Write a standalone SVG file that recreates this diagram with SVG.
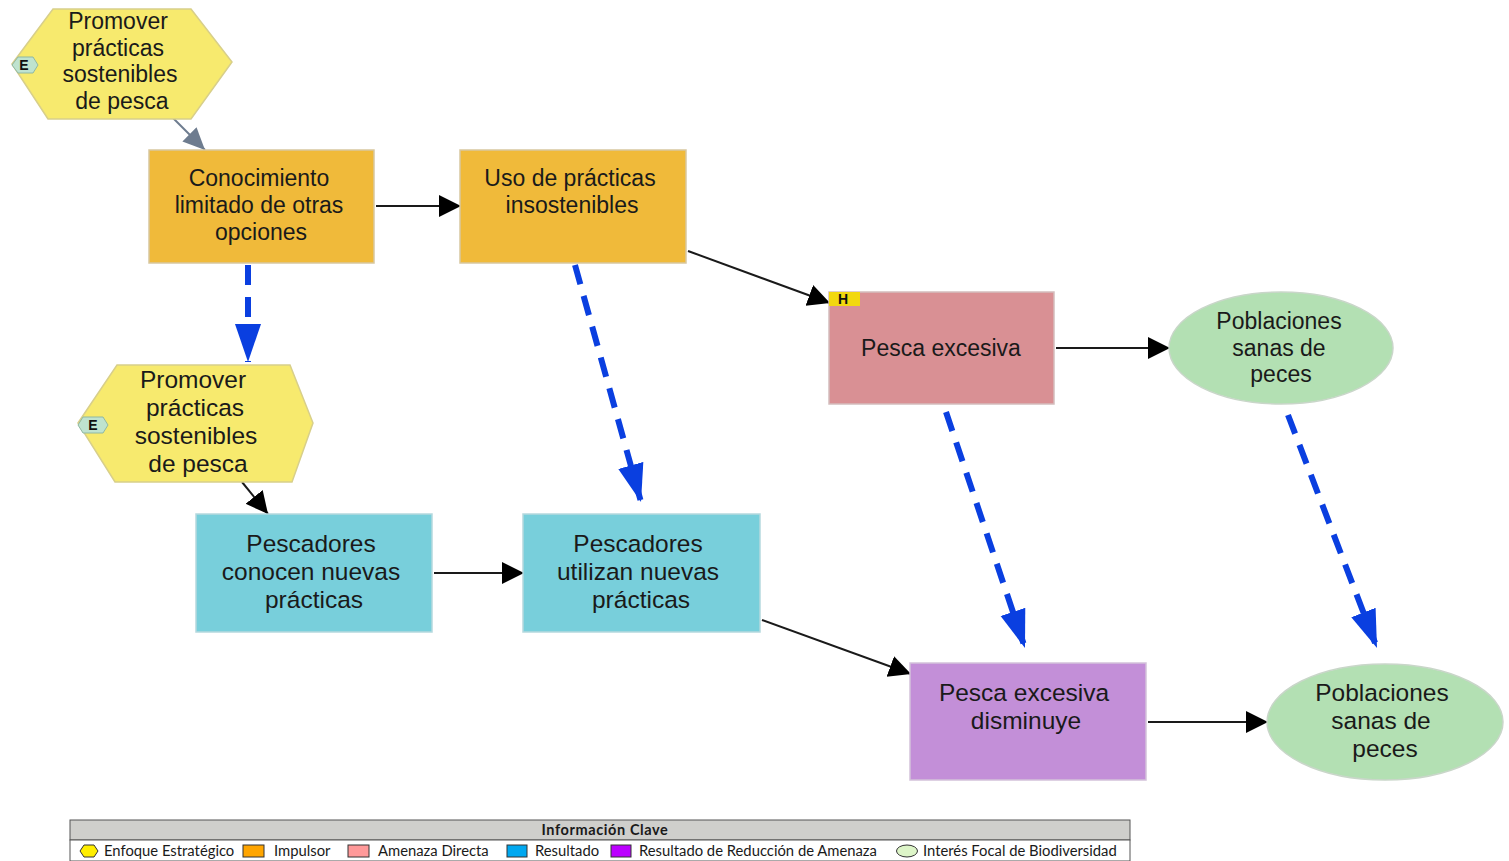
<svg xmlns="http://www.w3.org/2000/svg" width="1509" height="861" viewBox="0 0 1509 861">
  <style>
    .lbl { font-family: "Liberation Sans", Arial, sans-serif; font-size: 23px; fill: #1a1a1a; text-anchor: middle; }
    .big { font-size: 24.5px; }
    .hex { fill: #F7EA6E; stroke: #D8CF8A; stroke-width: 1.5; }
    .drv { fill: #F0BA3A; stroke: #D8C7A0; stroke-width: 1.5; }
    .thr { fill: #D99094; stroke: #D4BDBD; stroke-width: 1.5; }
    .res { fill: #78CFDB; stroke: #B5D9DE; stroke-width: 1.5; }
    .trr { fill: #C38FD8; stroke: #D3C2DA; stroke-width: 1.5; }
    .bio { fill: #B3E0B3; stroke: #C9D6C9; stroke-width: 1.5; }
    .badge { fill: #BFE3CF; stroke: #8FB8A3; stroke-width: 1; }
    .badgeTxt { font-family: "Liberation Sans", Arial, sans-serif; font-size: 14px; font-weight: bold; fill: #111; text-anchor: middle; }
    .link { stroke: #1a1a1a; stroke-width: 2; fill: none; }
    .dash { stroke: #0A3FE0; stroke-width: 6; fill: none; stroke-dasharray: 20 12; }
    .leg { font-family: Lato, "Open Sans", sans-serif; font-size: 14.8px; fill: #1a1a1a; }
  </style>
  <defs>
    <marker id="ah" markerUnits="userSpaceOnUse" markerWidth="24" markerHeight="24" viewBox="0 0 24 24" refX="22" refY="12" orient="auto">
      <path d="M0,1 L22,12 L0,23 Z" fill="#000"/>
    </marker>
    <marker id="ahGray" markerUnits="userSpaceOnUse" markerWidth="24" markerHeight="24" viewBox="0 0 24 24" refX="22" refY="12" orient="auto">
      <path d="M0,2 L22,12 L0,22 Z" fill="#6E7C8F"/>
    </marker>
    <marker id="ahBlue" markerUnits="userSpaceOnUse" markerWidth="40" markerHeight="30" viewBox="0 0 40 30" refX="38" refY="15" orient="auto">
      <path d="M0,2 L38,15 L0,28 Z" fill="#0A3FE0"/>
    </marker>
  </defs>

  <!-- connectors -->
  <g id="connectors">
    <line x1="172" y1="117" x2="205" y2="150" stroke="#6E7C8F" stroke-width="2" marker-end="url(#ahGray)"/>
    <line class="link" x1="376" y1="206" x2="461" y2="206" marker-end="url(#ah)"/>
    <line class="link" x1="688" y1="251" x2="830" y2="303" marker-end="url(#ah)"/>
    <line class="link" x1="1056" y1="348" x2="1170" y2="348" marker-end="url(#ah)"/>
    <line class="link" x1="242" y1="482" x2="268" y2="514" marker-end="url(#ah)"/>
    <line class="link" x1="434" y1="573" x2="524" y2="573" marker-end="url(#ah)"/>
    <line class="link" x1="762" y1="620" x2="911" y2="674" marker-end="url(#ah)"/>
    <line class="link" x1="1148" y1="722" x2="1268" y2="722" marker-end="url(#ah)"/>
    <line class="dash" x1="248" y1="265" x2="248" y2="362" marker-end="url(#ahBlue)"/>
    <line class="dash" x1="575" y1="265" x2="641" y2="502" marker-end="url(#ahBlue)"/>
    <line class="dash" x1="946" y1="412" x2="1025" y2="648" marker-end="url(#ahBlue)"/>
    <line class="dash" x1="1288" y1="415" x2="1377" y2="648" marker-end="url(#ahBlue)"/>
  </g>

  <!-- strategy 1 -->
  <g id="strategy1">
    <polygon class="hex" points="12,64 53,9 191,9 232,62 191,119 48,119"/>
    <polygon class="badge" points="12,65 18,57 33,57 38,65 33,73 18,73"/>
    <text class="badgeTxt" x="24" y="70">E</text>
    <text class="lbl" x="118" y="29">Promover</text>
    <text class="lbl" x="118" y="56">prácticas</text>
    <text class="lbl" x="120" y="82">sostenibles</text>
    <text class="lbl" x="122" y="109">de pesca</text>
  </g>

  <!-- strategy 2 -->
  <g id="strategy2">
    <polygon class="hex" points="78,423 117,365 290,365 313,423 292,482 115,482"/>
    <polygon class="badge" points="78,425 83,417 103,417 108,425 103,433 83,433"/>
    <text class="badgeTxt" x="93" y="430">E</text>
    <text class="lbl big" x="193" y="388">Promover</text>
    <text class="lbl big" x="195" y="416">prácticas</text>
    <text class="lbl big" x="196" y="444">sostenibles</text>
    <text class="lbl big" x="198" y="472">de pesca</text>
  </g>

  <!-- drivers -->
  <g id="driver-conocimiento">
    <rect class="drv" x="149" y="150" width="225" height="113"/>
    <text class="lbl" x="259" y="186">Conocimiento</text>
    <text class="lbl" x="259" y="213">limitado de otras</text>
    <text class="lbl" x="261" y="240">opciones</text>
  </g>
  <g id="driver-uso">
    <rect class="drv" x="460" y="150" width="226" height="113"/>
    <text class="lbl" x="570" y="186">Uso de prácticas</text>
    <text class="lbl" x="572" y="213">insostenibles</text>
  </g>

  <!-- direct threat -->
  <g id="threat-pesca">
    <rect class="thr" x="829" y="292" width="225" height="112"/>
    <rect x="829" y="292" width="31" height="14" fill="#F2D80F"/>
    <text class="badgeTxt" x="843" y="304">H</text>
    <text class="lbl" x="941" y="356">Pesca excesiva</text>
  </g>

  <!-- biodiversity target -->
  <g id="target1">
    <ellipse class="bio" cx="1281" cy="348" rx="112" ry="56"/>
    <text class="lbl" x="1279" y="329">Poblaciones</text>
    <text class="lbl" x="1279" y="356">sanas de</text>
    <text class="lbl" x="1281" y="382">peces</text>
  </g>

  <!-- results -->
  <g id="result-conocen">
    <rect class="res" x="196" y="514" width="236" height="118"/>
    <text class="lbl big" x="311" y="552">Pescadores</text>
    <text class="lbl big" x="311" y="580">conocen nuevas</text>
    <text class="lbl big" x="314" y="608">prácticas</text>
  </g>
  <g id="result-utilizan">
    <rect class="res" x="523" y="514" width="237" height="118"/>
    <text class="lbl big" x="638" y="552">Pescadores</text>
    <text class="lbl big" x="638" y="580">utilizan nuevas</text>
    <text class="lbl big" x="641" y="608">prácticas</text>
  </g>

  <!-- threat reduction result -->
  <g id="trr-disminuye">
    <rect class="trr" x="910" y="663" width="236" height="117"/>
    <text class="lbl big" x="1024" y="701">Pesca excesiva</text>
    <text class="lbl big" x="1026" y="729">disminuye</text>
  </g>

  <!-- biodiversity target, future -->
  <g id="target2">
    <ellipse class="bio" cx="1385" cy="722" rx="118" ry="58"/>
    <text class="lbl big" x="1382" y="701">Poblaciones</text>
    <text class="lbl big" x="1381" y="729">sanas de</text>
    <text class="lbl big" x="1385" y="757">peces</text>
  </g>

  <!-- legend -->
  <g id="legend">
    <rect x="70" y="820" width="1060" height="20" fill="#CFCFCC" stroke="#555" stroke-width="1"/>
    <rect x="70" y="840" width="1060" height="21" fill="#fff" stroke="#555" stroke-width="1"/>
    <text class="leg" x="605" y="835" text-anchor="middle" style="font-weight:bold;font-size:14.5px;letter-spacing:0.6px">Información Clave</text>
    <polygon points="80,851 84,845 94,845 98,851 94,857 84,857" fill="#FFEE00" stroke="#333" stroke-width="1"/>
    <text class="leg" x="104" y="856">Enfoque Estratégico</text>
    <rect x="243" y="845" width="21" height="12" fill="#FFA500" stroke="#333" stroke-width="1"/>
    <text class="leg" x="274" y="856">Impulsor</text>
    <rect x="348" y="845" width="21" height="12" fill="#FF9999" stroke="#333" stroke-width="1"/>
    <text class="leg" x="378" y="856">Amenaza Directa</text>
    <rect x="507" y="845" width="20" height="12" fill="#00A8F0" stroke="#333" stroke-width="1"/>
    <text class="leg" x="535" y="856">Resultado</text>
    <rect x="611" y="845" width="20" height="12" fill="#BB00FF" stroke="#333" stroke-width="1"/>
    <text class="leg" x="639" y="856">Resultado de Reducción de Amenaza</text>
    <ellipse cx="907" cy="851" rx="10.5" ry="6" fill="#DDF5C8" stroke="#333" stroke-width="1"/>
    <text class="leg" x="923" y="856">Interés Focal de Biodiversidad</text>
  </g>
</svg>
